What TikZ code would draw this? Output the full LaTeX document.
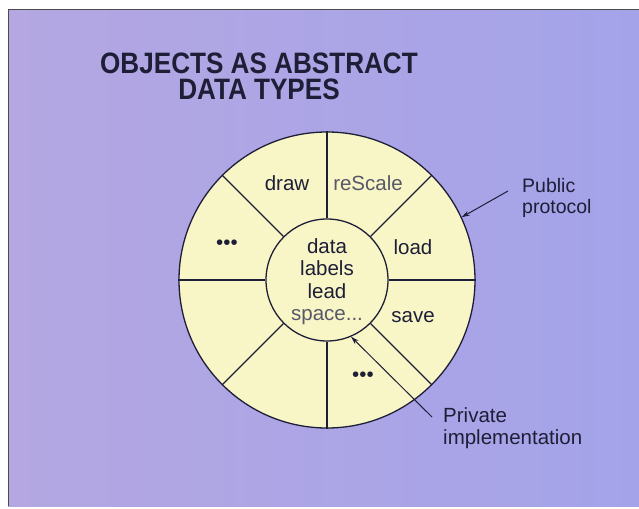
\documentclass[tikz,border=0pt]{standalone}
\usepackage{fontspec}
\setmainfont{Liberation Sans}
\usepackage{graphicx}
\usetikzlibrary{arrows.meta}
\definecolor{panelL}{RGB}{180,167,226}
\definecolor{panelR}{RGB}{164,163,233}
\definecolor{cream}{RGB}{248,245,198}
\definecolor{ink}{RGB}{30,30,55}
\definecolor{grayink}{RGB}{88,88,104}
\begin{document}
\begin{tikzpicture}[x=1pt,y=-1pt,
  lbl/.style={font=\fontsize{20.5}{22}\selectfont, text=ink, inner sep=0pt},
  note/.style={font=\fontsize{19.5}{21.5}\selectfont, text=ink, align=left, inner sep=0pt},
  titletext/.style={font=\bfseries\fontsize{29.5}{26}\selectfont, text=ink, inner sep=0pt, align=center},
  ring/.style={circle, draw=ink, line width=1.3pt, fill=cream, inner sep=0pt},
  spoke/.style={draw=ink, line width=1.1pt},
  pointer/.style={draw=ink, line width=1pt, -{Stealth[length=8pt,width=5pt]}}]
\useasboundingbox (0,0) rectangle (639,508);
\fill[white] (0,0) rectangle (639,508);
\shade[left color=panelL, right color=panelR] (8,10) rectangle (639,506);
\draw[line width=1pt, black!70] (8,506) -- (8,10) -- (639,10);
% title
\node[titletext, anchor=north] (title) at (259,53) {\scalebox{0.885}[1]{OBJECTS AS ABSTRACT}\\\scalebox{0.885}[1]{DATA TYPES}};
% wheel
\node[ring, minimum size=296pt] (outer) at (327,280) {};
\node[ring, minimum size=122pt] (inner) at (327,280) {};
\foreach \a in {0,45,...,315} \draw[spoke] (inner.\a) -- (outer.\a);
% method labels
\node[lbl, anchor=base] (draw) at (287,190) {draw};
\node[lbl, anchor=base, text=grayink] (rescale) at (368,190) {reScale};
\node[lbl, anchor=base] (load) at (413,254) {load};
\node[lbl, anchor=base] (save) at (413,322) {save};
\node[lbl] (dotsL) at (227,245) {•••};
\node[lbl] (dotsB) at (363,377) {•••};
% private data
\node[lbl, anchor=base] (data) at (327,253) {data};
\node[lbl, anchor=base] (labels) at (327,275) {labels};
\node[lbl, anchor=base] (lead) at (327,298) {lead};
\node[lbl, anchor=base, text=grayink] (space) at (327,320) {space...};
% notes
\node[note, anchor=north west] (pub) at (522,178) {Public\\protocol};
\node[note, font=\fontsize{20.5}{22}\selectfont, anchor=north west] (priv) at (443,407) {Private\\implementation};
\coordinate (pubtail) at (508,191);
\coordinate (privtail) at (432,417);
\draw[pointer] (pubtail) -- (outer.25);
\draw[pointer] (privtail) -- (inner.-67);
\end{tikzpicture}
\end{document}
